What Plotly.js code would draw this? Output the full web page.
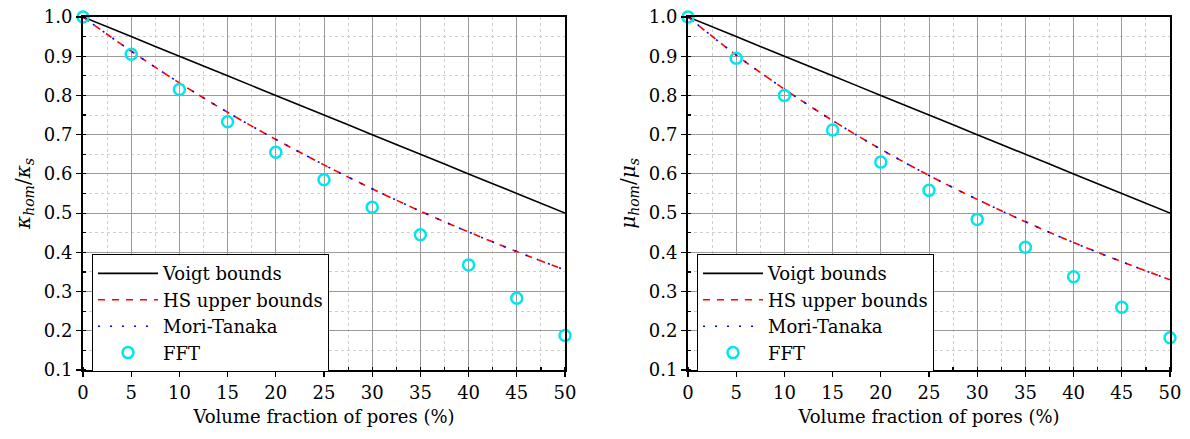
<!DOCTYPE html>
<html>
<head>
<meta charset="utf-8">
<script src="https://cdn.plot.ly/plotly-3.0.1.min.js"></script>
<style>
  html, body { margin: 0; padding: 0; background: #fff; }
  #chart { width: 1190px; height: 439px; }
</style>
</head>
<body>
<div id="chart"></div>
<script>
// Porosity (%) for all series
const porosity = [0, 5, 10, 15, 20, 25, 30, 35, 40, 45, 50];

// Bulk modulus ratio kappa_hom / kappa_s
const kappaVoigt = [1.0, 0.95, 0.90, 0.85, 0.80, 0.75, 0.70, 0.65, 0.60, 0.55, 0.50];
const kappaHS    = [1.0, 0.913, 0.832, 0.757, 0.688, 0.623, 0.562, 0.505, 0.452, 0.402, 0.355];
const kappaMT    = [1.0, 0.913, 0.832, 0.757, 0.688, 0.623, 0.562, 0.505, 0.452, 0.402, 0.355];
const kappaFFT   = [1.0, 0.905, 0.815, 0.733, 0.655, 0.585, 0.515, 0.445, 0.368, 0.283, 0.188];

// Shear modulus ratio mu_hom / mu_s
const muVoigt = [1.0, 0.95, 0.90, 0.85, 0.80, 0.75, 0.70, 0.65, 0.60, 0.55, 0.50];
const muHS    = [1.0, 0.903, 0.816, 0.736, 0.663, 0.596, 0.535, 0.478, 0.425, 0.376, 0.330];
const muMT    = [1.0, 0.903, 0.816, 0.736, 0.663, 0.596, 0.535, 0.478, 0.425, 0.376, 0.330];
const muFFT   = [1.0, 0.895, 0.800, 0.712, 0.630, 0.558, 0.484, 0.413, 0.338, 0.260, 0.182];

const seriesNames = ['Voigt bounds', 'HS upper bounds', 'Mori-Tanaka', 'FFT'];
const xTitle = 'Volume fraction of pores (%)';
const yTitleLeft = '<i>κ</i><sub><i>hom</i></sub>/<i>κ</i><sub><i>s</i></sub>';
const yTitleRight = '<i>μ</i><sub><i>hom</i></sub>/<i>μ</i><sub><i>s</i></sub>';

const FONT = 'DejaVu Serif';

function panel(voigt, hs, mt, fft, xa, ya, legendId) {
  return [
    { x: porosity, y: voigt, xaxis: xa, yaxis: ya, legend: legendId, name: seriesNames[0],
      mode: 'lines', line: { color: '#000000', width: 1.6, shape: 'spline' } },
    { x: porosity, y: hs, xaxis: xa, yaxis: ya, legend: legendId, name: seriesNames[1],
      mode: 'lines', line: { color: '#ff0000', width: 1.6, dash: '7px,7px', shape: 'spline' } },
    { x: porosity, y: mt, xaxis: xa, yaxis: ya, legend: legendId, name: seriesNames[2],
      mode: 'lines', line: { color: '#0000ff', width: 1.6, dash: '2px,10px', shape: 'spline' } },
    { x: porosity, y: fft, xaxis: xa, yaxis: ya, legend: legendId, name: seriesNames[3],
      mode: 'markers', marker: { symbol: 'circle-open', color: '#00e5ee', size: 11, line: { width: 2.5, color: '#00e5ee' } },
      cliponaxis: false }
  ];
}

const data = [].concat(
  panel(kappaVoigt, kappaHS, kappaMT, kappaFFT, 'x', 'y', 'legend'),
  panel(muVoigt, muHS, muMT, muFFT, 'x2', 'y2', 'legend2')
);

function xAxis(domain, anchor) {
  return {
    domain: domain, anchor: anchor, range: [0, 50], dtick: 5, tick0: 0,
    showline: true, linecolor: '#000', linewidth: 2, mirror: true,
    ticks: 'outside', ticklen: 5, tickwidth: 1.2, tickcolor: '#000',
    showgrid: true, gridcolor: '#9a9a9a', gridwidth: 1, zeroline: false,
    minor: { dtick: 2.5, showgrid: true, gridcolor: '#cfcfcf', griddash: 'dot', gridwidth: 1,
             ticks: 'inside', ticklen: 3, tickcolor: '#000' },
    tickfont: { family: FONT, size: 18, color: '#000' },
    title: { text: xTitle, font: { family: FONT, size: 18, color: '#000' }, standoff: 9 }
  };
}
function yAxis(anchor, title) {
  return {
    anchor: anchor, domain: [0, 1], range: [0.1, 1.0], dtick: 0.1, tick0: 0.1,
    tickformat: '.1f',
    showline: true, linecolor: '#000', linewidth: 2, mirror: true,
    ticks: 'outside', ticklen: 5, tickwidth: 1.2, tickcolor: '#000',
    showgrid: true, gridcolor: '#9a9a9a', gridwidth: 1, zeroline: false,
    minor: { dtick: 0.05, showgrid: true, gridcolor: '#cfcfcf', griddash: 'dot', gridwidth: 1,
             ticks: 'inside', ticklen: 3, tickcolor: '#000' },
    tickfont: { family: FONT, size: 18, color: '#000' },
    title: { text: title, font: { family: FONT, size: 20, color: '#000' }, standoff: 8 }
  };
}

function legendBox(x) {
  return {
    x: x, y: 0.328, xanchor: 'left', yanchor: 'top',
    bgcolor: '#ffffff', bordercolor: '#000', borderwidth: 1,
    font: { family: FONT, size: 18, color: '#000' },
    tracegroupgap: 0, itemwidth: 60
  };
}

const layout = {
  width: 1190, height: 439,
  margin: { l: 0, r: 0, t: 17, b: 69 },
  paper_bgcolor: '#fff', plot_bgcolor: '#fff',
  showlegend: true,
  xaxis: xAxis([83 / 1190, 565 / 1190], 'y'),
  yaxis: yAxis('x', yTitleLeft),
  xaxis2: xAxis([688 / 1190, 1170 / 1190], 'y2'),
  yaxis2: yAxis('x2', yTitleRight),
  legend: legendBox(92 / 1190),
  legend2: legendBox(697 / 1190),
  font: { family: FONT, color: '#000' }
};

Plotly.newPlot('chart', data, layout, { displayModeBar: false, staticPlot: true });
</script>
</body>
</html>
